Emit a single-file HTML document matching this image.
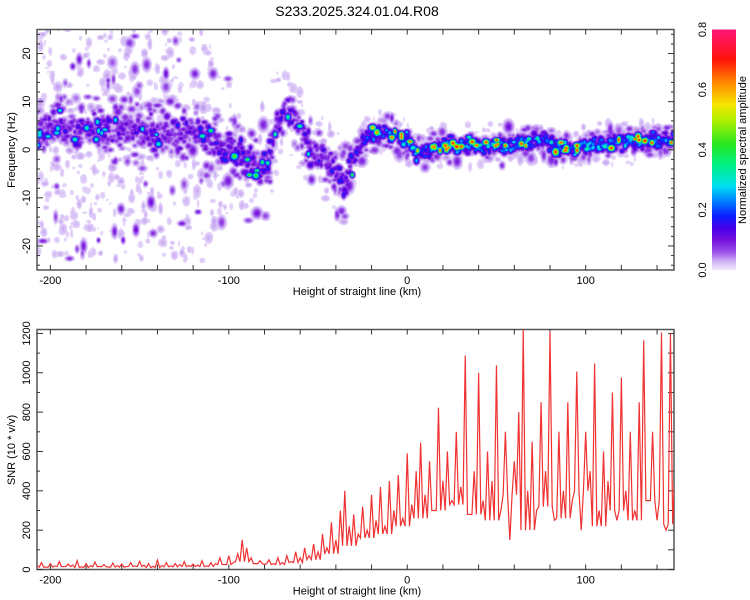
<!DOCTYPE html>
<html><head><meta charset="utf-8">
<style>
body{margin:0;background:#fff;width:750px;height:600px;overflow:hidden;font-family:"Liberation Sans",sans-serif;}
#wrap{position:relative;width:750px;height:600px;}
canvas{position:absolute;left:37px;top:30px;}
svg{position:absolute;left:0;top:0;}
text{font-family:"Liberation Sans",sans-serif;fill:#000;}
</style></head>
<body>
<div id="wrap">
<canvas id="hm" width="637" height="240"></canvas>
<svg id="svg" width="750" height="600">
<defs>
<linearGradient id="cbg" x1="0" y1="1" x2="0" y2="0"></linearGradient>
</defs>
</svg>
</div>
<script>
// ---- data: spectrogram ridge ----
const ridgeKm   = [-207,-195,-185,-175,-165,-155,-145,-135,-125,-115,-105,-95,-85,-80,-75,-70,-65,-55,-45,-35,-30,-25,-15,-5,0,5,15,25,35,45,55,65,75,85,95,105,115,125,135,150];
const ridgeFreq = [4,5,4,5,4,4,4,4,4,3,1,-1,-3,-4,3,8,7,1,-2,-7,-2,2,3.5,3,2,-0.5,0.5,1,1,1,1,1.5,2,0.5,0.5,1,1.5,1.5,2,2];
const ridgeAmp  = [0.2,0.22,0.22,0.22,0.22,0.22,0.22,0.22,0.24,0.25,0.28,0.3,0.28,0.25,0.25,0.25,0.24,0.24,0.24,0.26,0.3,0.36,0.42,0.45,0.45,0.4,0.42,0.45,0.45,0.45,0.45,0.45,0.45,0.45,0.45,0.45,0.45,0.45,0.45,0.45];
const ridgeWidth= [4.5,4.5,4.5,4.5,4.5,4.5,4.5,4.5,4.5,4.5,4.5,4.5,4.5,4.5,4,3.5,3.5,4.5,4.5,4.5,3,2.5,2.2,2.2,2.2,2,2,2,2,2,2,2,2,2,2,2,2,2,2,2];
const noiseSpread=[27,27,27,27,27,27,27,27,27,26,17,15,13,13,12,10,9,9,9,9,6,4.5,4.5,4.5,4.5,4.5,4.5,4.5,4.5,4.5,4.5,4.5,4.5,4.5,4.5,4.5,4.5,4.5,4.5,4.5];
const noiseDensity=[3.2,3.2,3.2,3.2,3.2,3.2,3.2,3.1,3,2.7,1.3,1.2,1.1,1.1,1,1,1,1,0.9,0.9,0.7,0.6,0.6,0.6,0.6,0.6,0.6,0.6,0.6,0.6,0.6,0.6,0.6,0.6,0.6,0.6,0.6,0.6,0.6,0.6];
// ---- data: SNR series, km = -207.5 + 2.5*i ----
const snrStartKm = -207.5, snrStepKm = 2.5;
const snrValues = [20,35,12,30,18,40,15,28,22,45,14,30,20,38,16,25,12,33,20,28,15,35,18,42,22,30,16,48,20,35,18,30,25,40,20,28,22,45,18,35,
30,60,25,70,35,80,150,110,
60,30,45,25,50,30,60,35,
70,40,90,60,110,70,130,90,
180,110,240,150,300,400,220,280,
180,320,200,380,250,420,220,450,
300,480,260,590,330,500,645,380,
550,300,823,450,600,350,700,420,
1088,280,500,1000,350,600,450,1037,
300,700,150,550,800,1220,400,650,
300,850,500,1210,250,700,400,850,
350,1006,200,700,500,1047,300,600,
450,900,250,976,400,700,300,850,
1165,350,700,250,1205,200,1200,500];
// mid-sample levels between samples, per 10 km starting at -207.5
const snrTroughStartKm = -207.5, snrTroughStepKm = 10;
const snrTrough = [12,15,10,14,12,15,10,14,15,15,25,40,30,25,35,50,80,120,160,180,220,260,300,330,280,250,380,200,320,260,400,220,300,250,350,230];
// ---- ticks ----
const xTicks = [-200,-100,0,100];
const freqTicks = [20,10,0,-10,-20];
const snrTicks = [0,200,400,600,800,1000,1200];
const cbTicks = [0.0,0.2,0.4,0.6,0.8];

const KM0=-207.5, KM1=149.5, PX0=37, PW=637;
const xS = km => PX0 + (km-KM0)/(KM1-KM0)*PW;
const yF = f => 149.75 - f*4.81;
const yS = v => 569.5 - v*(240/1220);
const cmStops=[[0,[240,230,252]],[0.01,[230,215,250]],[0.03,[205,175,244]],[0.06,[155,80,232]],[0.1,[115,15,222]],[0.14,[70,0,235]],[0.18,[10,30,255]],[0.23,[0,130,255]],[0.28,[0,225,240]],[0.35,[0,240,130]],[0.42,[40,230,30]],[0.5,[180,240,0]],[0.55,[245,230,0]],[0.62,[255,140,0]],[0.7,[255,20,10]],[0.8,[255,20,120]]];
function cmap(v){
  if(v<=cmStops[0][0]) return cmStops[0][1];
  for(let i=1;i<cmStops.length;i++){ if(v<=cmStops[i][0]){const a=cmStops[i-1],b=cmStops[i];const t=(v-a[0])/(b[0]-a[0]);return a[1].map((c,k)=>c+(b[1][k]-c)*t);} }
  return cmStops[cmStops.length-1][1];
}
function interp(xs,ys,x){
  if(x<=xs[0])return ys[0]; for(let i=1;i<xs.length;i++){if(x<=xs[i]){const t=(x-xs[i-1])/(xs[i]-xs[i-1]);return ys[i-1]+(ys[i]-ys[i-1])*t;}} return ys[ys.length-1];
}
let seed=12345;
function rnd(){seed|=0;seed=seed+0x6D2B79F5|0;let t=Math.imul(seed^seed>>>15,1|seed);t=t+Math.imul(t^t>>>7,61|t)^t;return((t^t>>>14)>>>0)/4294967296;}

const W=637,H=240, field=new Float32Array(W*H);
function splat(cx,cy,amp,rx,ry){
  const x0=Math.max(0,Math.floor(cx-rx*2.2)),x1=Math.min(W-1,Math.ceil(cx+rx*2.2));
  const y0=Math.max(0,Math.floor(cy-ry*2.2)),y1=Math.min(H-1,Math.ceil(cy+ry*2.2));
  for(let y=y0;y<=y1;y++)for(let x=x0;x<=x1;x++){const dx=(x-cx)/rx,dy=(y-cy)/ry;const v=amp*Math.exp(-(dx*dx+dy*dy));const k=y*W+x;if(v>field[k])field[k]=v;}
}
for(let km=KM0;km<=KM1;km+=0.6){
  const c=interp(ridgeKm,ridgeFreq,km),a=interp(ridgeKm,ridgeAmp,km),w=interp(ridgeKm,ridgeWidth,km),s=interp(ridgeKm,noiseSpread,km),d=interp(ridgeKm,noiseDensity,km);
  const cx=xS(km)-PX0;
  const n=Math.floor(d+rnd());
  for(let j=0;j<n;j++){
    const f=c+s*(2*rnd()-1);
    const r=rnd();
    let amp=0.013+0.025*r*r;
    if(rnd()<0.16) amp=0.06+0.05*rnd();
    splat(cx,yF(f)-30,amp,1.8+2.8*rnd(),2.2+3.8*rnd());
  }
  if(rnd()<0.8){const f=c+w*1.5*(2*rnd()-1);splat(cx,yF(f)-30,0.025+0.07*rnd(),2.2+2*rnd(),2.2+2*rnd());}
  for(let j=0;j<2;j++){
    const f=c+w*(rnd()+rnd()+rnd()-1.5)*0.7;
    let amp=a*(0.3+0.6*rnd()*rnd());
    if(rnd()<0.06)amp=Math.min(0.75,a*1.6);
    splat(cx,yF(f)-30,amp,2+1.8*rnd(),2+1.8*rnd());
  }
}
const ctx=document.getElementById('hm').getContext('2d');
const img=ctx.createImageData(W,H);
for(let i=0;i<W*H;i++){const v=field[i];let c=[255,255,255];if(v>0.01)c=cmap(v);img.data[i*4]=c[0];img.data[i*4+1]=c[1];img.data[i*4+2]=c[2];img.data[i*4+3]=255;}
ctx.putImageData(img,0,0);

const svg=document.getElementById('svg'),NS='http://www.w3.org/2000/svg';
function mk(tag,attrs,parent){const e=document.createElementNS(NS,tag);for(const k in attrs)e.setAttribute(k,attrs[k]);(parent||svg).appendChild(e);return e;}
function txt(str,x,y,size,rot,anchor){const e=mk('text',{x:x,y:y,'font-size':size,'text-anchor':anchor||'middle'});if(rot)e.setAttribute('transform','rotate(-90 '+x+' '+y+')');e.textContent=str;return e;}

const t=txt('S233.2025.324.01.04.R08',357,16,14);



const g=document.getElementById('cbg');
cmStops.forEach(s=>{mk('stop',{offset:(s[0]/0.8*100)+'%','stop-color':'rgb('+s[1].map(Math.round).join(',')+')'},g);});
const cb=mk('rect',{x:712,y:29.5,width:24,height:240.5,fill:'url(#cbg)'});


cbTicks.forEach(v=>{const y=270-v/0.8*240.5;const l=txt(v.toFixed(1),706,y,11,true);

});
const cbt=txt('Normalized spectral amplitude',746,150,11,true);



function frame(top,bot,name){
  const r=mk('rect',{x:37,y:top,width:637,height:bot-top,fill:'none',stroke:'#555','stroke-width':1.5});
  
  
  for(let km=-200;km<=140;km+=20){const x=xS(km);mk('line',{x1:x,y1:top,x2:x,y2:top+5,stroke:'#333'});mk('line',{x1:x,y1:bot,x2:x,y2:bot-5,stroke:'#333'});}
  xTicks.forEach(k=>{const l=txt(String(k),xS(k),bot+14,11);
  
  });
  const xl=txt('Height of straight line (km)',357,bot+25,11);
  
  
}
frame(29.5,270,'spectrogram-frame');
for(let f=-24;f<=24;f+=2){const y=yF(f);mk('line',{x1:37,y1:y,x2:f%10===0?43:40,y2:y,stroke:'#333'});mk('line',{x1:674,y1:y,x2:f%10===0?668:671,y2:y,stroke:'#333'});}
freqTicks.forEach(f=>{const l=txt(String(f),30,yF(f),11,true);

});
const yl=txt('Frequency (Hz)',15,150,11,true);



frame(329.5,569.5,'snr-frame');
for(let v=0;v<=1200;v+=100){const y=yS(v);mk('line',{x1:37,y1:y,x2:v%200===0?43:40,y2:y,stroke:'#333'});mk('line',{x1:674,y1:y,x2:668,y2:y,stroke:'#333'});}
snrTicks.forEach(v=>{const l=txt(String(v),30,yS(v),11,true);

});
const sl=txt('SNR (10 * v/v)',15,450,11,true);



const cp=mk('clipPath',{id:'clipS'});
mk('rect',{x:37,y:329.5,width:637,height:240},cp);
let d='';
snrValues.forEach((v,i)=>{
  const km=snrStartKm+i*snrStepKm;
  d+=(i?'L':'M')+xS(km).toFixed(2)+' '+yS(v).toFixed(2);
  if(i<snrValues.length-1){
    const km2=km+snrStepKm/2;
    const ti=Math.min(snrTrough.length-1,Math.floor((km2-snrTroughStartKm)/snrTroughStepKm));
    d+='L'+xS(km2).toFixed(2)+' '+yS(snrTrough[ti]).toFixed(2);
  }
});
const line=mk('path',{d:d,fill:'none',stroke:'#f03232','stroke-width':1.2,'clip-path':'url(#clipS)'});


</script>
</body></html>
